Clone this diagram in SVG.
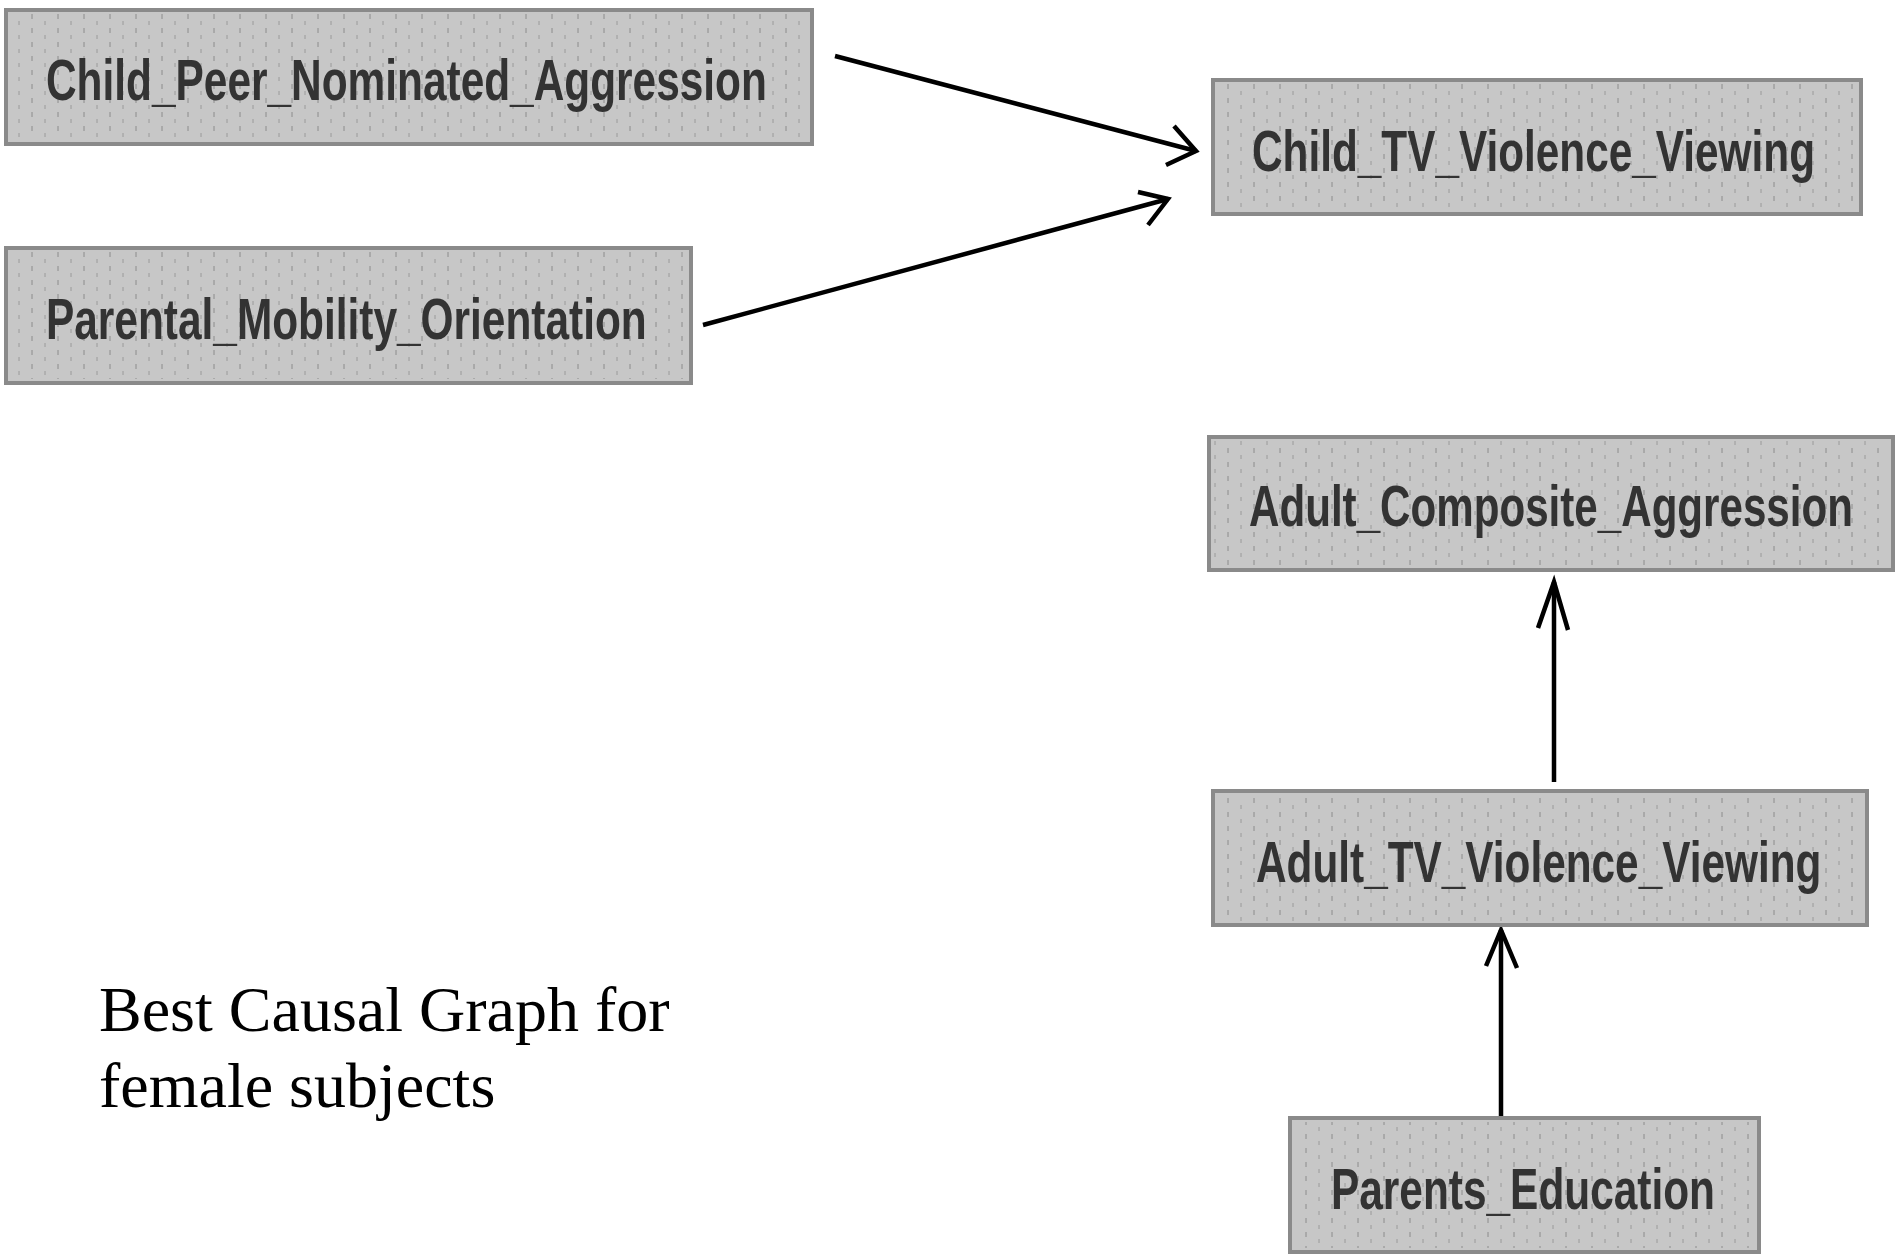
<svg xmlns="http://www.w3.org/2000/svg" width="1897" height="1260" viewBox="0 0 1897 1260">
  <defs>
    <pattern id="dots" x="0" y="0" width="26" height="14" patternUnits="userSpaceOnUse">
      <line x1="6" y1="0" x2="6" y2="5" stroke="#8c8c8c" stroke-width="1"/>
      <line x1="19" y1="7" x2="19" y2="11" stroke="#9a9a9a" stroke-width="1"/>
    </pattern>
  </defs>
  <style>
    .box { fill: #c7c7c7; stroke: #8a8a8a; stroke-width: 4; }
    .tex { fill: url(#dots); stroke: none; }
    .lbl { font-family: "Liberation Sans", Arial, sans-serif; font-weight: bold; font-size: 58px; fill: #333333; }
    .edge { stroke: #000; stroke-width: 4.5; fill: none; }
    .cap { font-family: "Liberation Serif", "Times New Roman", serif; font-size: 64px; fill: #000; }
  </style>
  <rect width="1897" height="1260" fill="#ffffff"/>

  <g id="connectors">
    <line class="edge" x1="835" y1="56" x2="1196" y2="151"/>
    <path class="edge" d="M1174,126 L1196,151 L1166,165"/>
    <line class="edge" x1="703" y1="325" x2="1168" y2="199"/>
    <path class="edge" d="M1138,192 L1168,199 L1148,225"/>
    <line class="edge" x1="1554" y1="782" x2="1554" y2="582"/>
    <path class="edge" d="M1538,628 L1554,582 L1568,630"/>
    <line class="edge" x1="1501" y1="1117" x2="1501" y2="930"/>
    <path class="edge" d="M1486,966 L1501,930 L1517,968"/>
  </g>

  <g id="node-child-peer">
    <rect class="box" x="6" y="10" width="806" height="134"/>
    <rect class="tex" x="10" y="14" width="798" height="126"/>
    <text class="lbl" transform="translate(46,100) scale(0.731,1)">Child_Peer_Nominated_Aggression</text>
  </g>

  <g id="node-parental-mobility">
    <rect class="box" x="6" y="248" width="685" height="135"/>
    <rect class="tex" x="10" y="252" width="677" height="127"/>
    <text class="lbl" transform="translate(46,339) scale(0.731,1)">Parental_Mobility_Orientation</text>
  </g>

  <g id="node-child-tv">
    <rect class="box" x="1213" y="80" width="648" height="134"/>
    <rect class="tex" x="1217" y="84" width="640" height="126"/>
    <text class="lbl" transform="translate(1252,171) scale(0.730,1)">Child_TV_Violence_Viewing</text>
  </g>

  <g id="node-adult-composite">
    <rect class="box" x="1209" y="437" width="684" height="133"/>
    <rect class="tex" x="1213" y="441" width="676" height="125"/>
    <text class="lbl" transform="translate(1249,526) scale(0.7265,1)">Adult_Composite_Aggression</text>
  </g>

  <g id="node-adult-tv">
    <rect class="box" x="1213" y="791" width="654" height="134"/>
    <rect class="tex" x="1217" y="795" width="646" height="126"/>
    <text class="lbl" transform="translate(1256,882) scale(0.730,1)">Adult_TV_Violence_Viewing</text>
  </g>

  <g id="node-parents-education">
    <rect class="box" x="1290" y="1118" width="469" height="134"/>
    <rect class="tex" x="1294" y="1122" width="461" height="126"/>
    <text class="lbl" transform="translate(1331,1209) scale(0.731,1)">Parents_Education</text>
  </g>

  <g id="caption">
    <text class="cap" x="99" y="1031">Best Causal Graph for</text>
    <text class="cap" x="99" y="1107">female subjects</text>
  </g>
</svg>
